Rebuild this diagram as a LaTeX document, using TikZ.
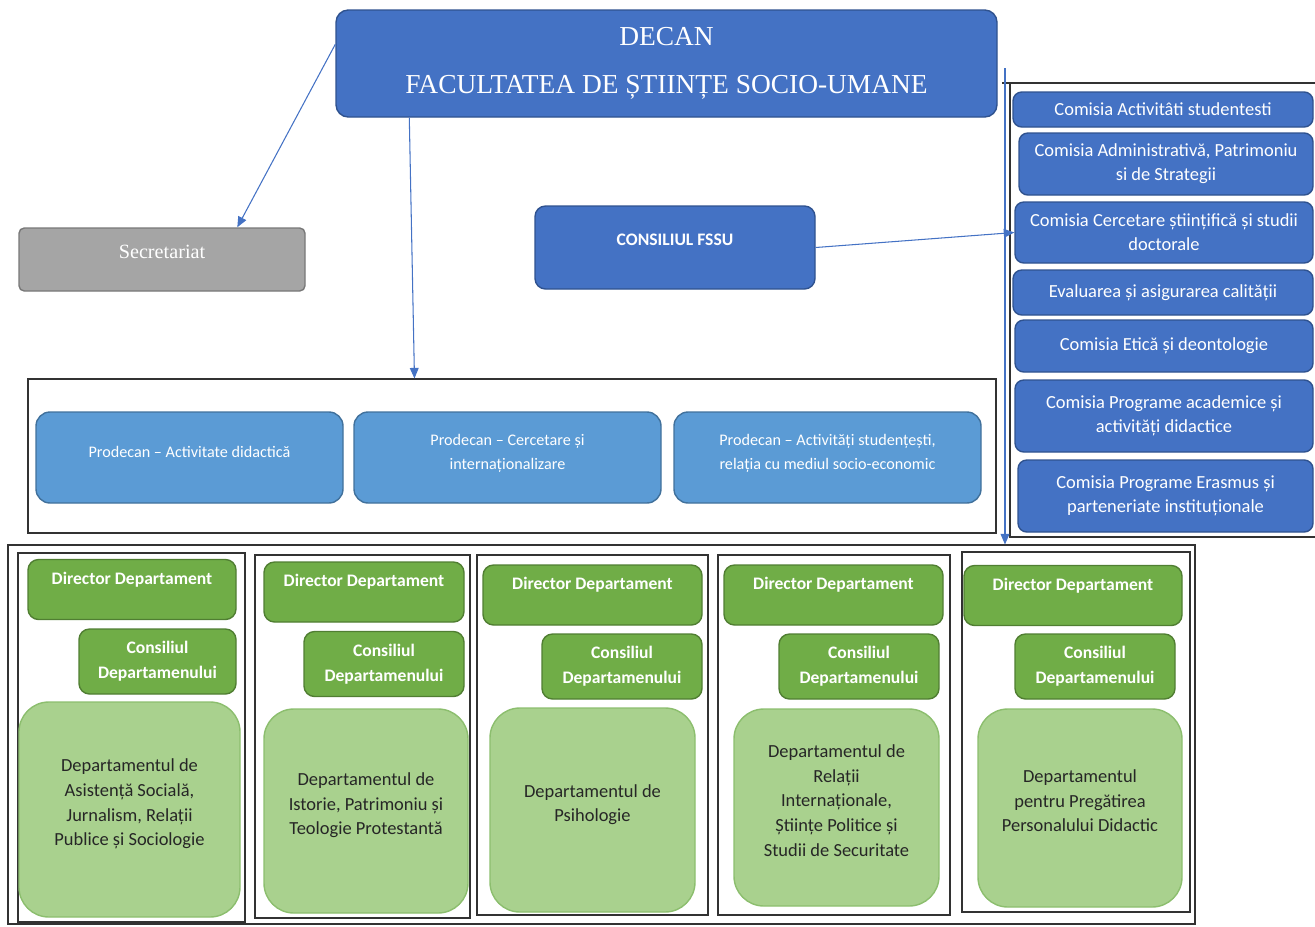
\documentclass[tikz,border=0pt]{standalone}
\usepackage{fontspec}
\setmainfont{Carlito}
\newfontfamily\timesfont{Liberation Serif}
\usetikzlibrary{arrows.meta, calc}
\definecolor{deanblue}{RGB}{68, 114, 196}
\definecolor{deanedge}{RGB}{47, 82, 143}
\definecolor{prodblue}{RGB}{91, 155, 213}
\definecolor{prodedge}{RGB}{65, 113, 156}
\definecolor{dirgreen}{RGB}{112, 173, 71}
\definecolor{diredge}{RGB}{80, 126, 50}
\definecolor{deptgreen}{RGB}{169, 209, 142}
\definecolor{deptedge}{RGB}{140, 190, 110}
\definecolor{secgray}{RGB}{165, 165, 165}
\definecolor{secedge}{RGB}{120, 120, 120}
\definecolor{framegray}{RGB}{50, 50, 50}
\newlength\px
\setlength\px{0.2mm}

\tikzset{
  box/.style={draw, align=center, inner sep=2pt, line width=0.8pt},
  deanbox/.style={box, draw=deanedge, fill=deanblue, text=white, rounded corners=7pt},
  combox/.style={box, draw=deanedge, fill=deanblue, text=white, rounded corners=5pt,
    font=\fontsize{10.5}{13.6}\selectfont},
  prodbox/.style={box, draw=prodedge, fill=prodblue, text=white, rounded corners=8pt,
    minimum width=307*\px, minimum height=91*\px, font=\fontsize{9.2}{13.6}\selectfont},
  dirbox/.style={box, draw=diredge, fill=dirgreen, text=white, rounded corners=6pt,
    minimum height=60*\px, font=\bfseries\fontsize{10}{13}\selectfont},
  councilbox/.style={box, draw=diredge, fill=dirgreen, text=white, rounded corners=6pt,
    minimum width=160*\px, minimum height=65*\px, font=\bfseries\fontsize{10}{14}\selectfont},
  deptbox/.style={box, draw=deptedge, fill=deptgreen, text=black!85, rounded corners=17pt,
    minimum width=205*\px, font=\fontsize{10.5}{14}\selectfont},
  framebox/.style={draw=framegray, line width=0.6pt},
  link/.style={draw=deanblue, line width=0.6pt, -{Triangle[width=5pt, length=6pt]}}
}

\begin{document}
\begin{tikzpicture}[x=0.2mm, y=-0.2mm]
  \useasboundingbox (0,0) rectangle (1315,926);

  % Top level
  \node[deanbox, minimum width=661*\px, minimum height=107*\px,
    font=\timesfont\fontsize{15.6}{27}\selectfont] (decan) at (666.5,63.5)
    {DECAN\\FACULTATEA DE ȘTIINȚE SOCIO-UMANE};
  \node[box, draw=secedge, fill=secgray, text=white, rounded corners=3pt,
    minimum width=286*\px, minimum height=63*\px,
    font=\timesfont\fontsize{11.5}{13}\selectfont] (secr) at (162,259.5) {Secretariat\\[-4.5pt]};
  \node[deanbox, rounded corners=6pt, minimum width=280*\px, minimum height=83*\px,
    font=\bfseries\fontsize{10}{11}\selectfont] (consiliu) at (675,247.5) {CONSILIUL FSSU\\[-2.5pt]};

  % Commissions
  \node[combox, minimum width=300*\px, minimum height=35*\px] (com1) at (1163,109.5)
    {Comisia Activitâti studentesti};
  \node[combox, minimum width=294*\px, minimum height=62*\px] (com2) at (1166,164)
    {Comisia Administrativă, Patrimoniu\\si de Strategii};
  \node[combox, minimum width=298*\px, minimum height=61*\px] (com3) at (1164,232.5)
    {Comisia Cercetare științifică și studii\\doctorale};
  \node[combox, minimum width=300*\px, minimum height=45*\px] (com4) at (1163,292.5)
    {Evaluarea și asigurarea calității};
  \node[combox, minimum width=298*\px, minimum height=52*\px] (com5) at (1164,346)
    {Comisia Etică și deontologie};
  \node[combox, minimum width=298*\px, minimum height=72*\px] (com6) at (1164,416)
    {Comisia Programe academice și\\activități didactice};
  \node[combox, minimum width=295*\px, minimum height=72*\px] (com7) at (1165.5,496)
    {Comisia Programe Erasmus și\\parteneriate instituționale};
  \draw[framegray, line width=0.6pt] (1315,83) -- (1002,83);
  \draw[framegray, line width=0.6pt] (1010,83) -- (1010,537) -- (1315,537);

  % Vice-deans
  \node[framebox, minimum width=968*\px, minimum height=154*\px] (pframe) at (512,456) {};
  \node[prodbox] (prod1) at (189.5,457.5) {Prodecan -- Activitate didactică\\[-6.8pt]};
  \node[prodbox] (prod2) at (507.5,457.5) {Prodecan -- Cercetare și\\internaționalizare\\[-6.8pt]};
  \node[prodbox] (prod3) at (827.5,457.5)
    {Prodecan -- Activități studențești,\\relația cu mediul socio-economic\\[-6.8pt]};

  % Departments
  \node[framebox, minimum width=1187*\px, minimum height=379*\px] (deptframe) at (601.5,734.5) {};
  \node[framebox, minimum width=227*\px, minimum height=369*\px] (col1) at (131.5,737.5) {};
  \node[framebox, minimum width=215*\px, minimum height=363*\px] (col2) at (362.5,736.5) {};
  \node[framebox, minimum width=231*\px, minimum height=360*\px] (col3) at (592.5,735) {};
  \node[framebox, minimum width=232*\px, minimum height=360*\px] (col4) at (834,735) {};
  \node[framebox, minimum width=228*\px, minimum height=360*\px] (col5) at (1076,732) {};

  \node[dirbox, minimum width=208*\px] (dir1) at (132,589.5) {Director Departament\\\mbox{}};
  \node[councilbox, minimum width=157*\px] (cons1) at (157.5,661.5) {Consiliul\\Departamenului};
  \node[deptbox, minimum width=221*\px, minimum height=215*\px] (dept1) at (129.5,809.5)
    {Departamentul de\\Asistență Socială,\\Jurnalism, Relații\\Publice și Sociologie\\[-6pt]};

  \node[dirbox, minimum width=200*\px] (dir2) at (364,592) {Director Departament\\\mbox{}};
  \node[councilbox] (cons2) at (384,664) {Consiliul\\Departamenului};
  \node[deptbox, minimum width=204*\px, minimum height=204*\px] (dept2) at (366,811)
    {Departamentul de\\Istorie, Patrimoniu și\\Teologie Protestantă\\[-6pt]};

  \node[dirbox, minimum width=219*\px] (dir3) at (592.5,595) {Director Departament\\\mbox{}};
  \node[councilbox] (cons3) at (622,666.5) {Consiliul\\Departamenului};
  \node[deptbox, minimum height=204*\px] (dept3) at (592.5,810)
    {Departamentul de\\Psihologie\\[-6pt]};

  \node[dirbox, minimum width=219*\px] (dir4) at (833.5,595) {Director Departament\\\mbox{}};
  \node[councilbox] (cons4) at (859,666.5) {Consiliul\\Departamenului};
  \node[deptbox, minimum height=197*\px] (dept4) at (836.5,807.5)
    {Departamentul de\\Relații\\Internaționale,\\Științe Politice și\\Studii de Securitate\\[-6pt]};

  \node[dirbox, minimum width=218*\px] (dir5) at (1073,595.5) {Director Departament\\\mbox{}};
  \node[councilbox] (cons5) at (1095,666.5) {Consiliul\\Departamenului};
  \node[deptbox, minimum width=204*\px, minimum height=198*\px] (dept5) at (1080,808)
    {Departamentul\\pentru Pregătirea\\Personalului Didactic\\[-6pt]};

  % Connectors
  \draw[link] ($(decan.north west)+(0,35)$) -- ($(secr.north west)+(219,0)$);
  \draw[link] ($(decan.south west)+(74,0)$) -- ($(pframe.north west)+(387,0)$);
  \draw[link] (consiliu.east) -- (com3.west);
  \coordinate (split) at (1005,68);
  \draw[link] (split) -- (split |- deptframe.north);
\end{tikzpicture}
\end{document}
